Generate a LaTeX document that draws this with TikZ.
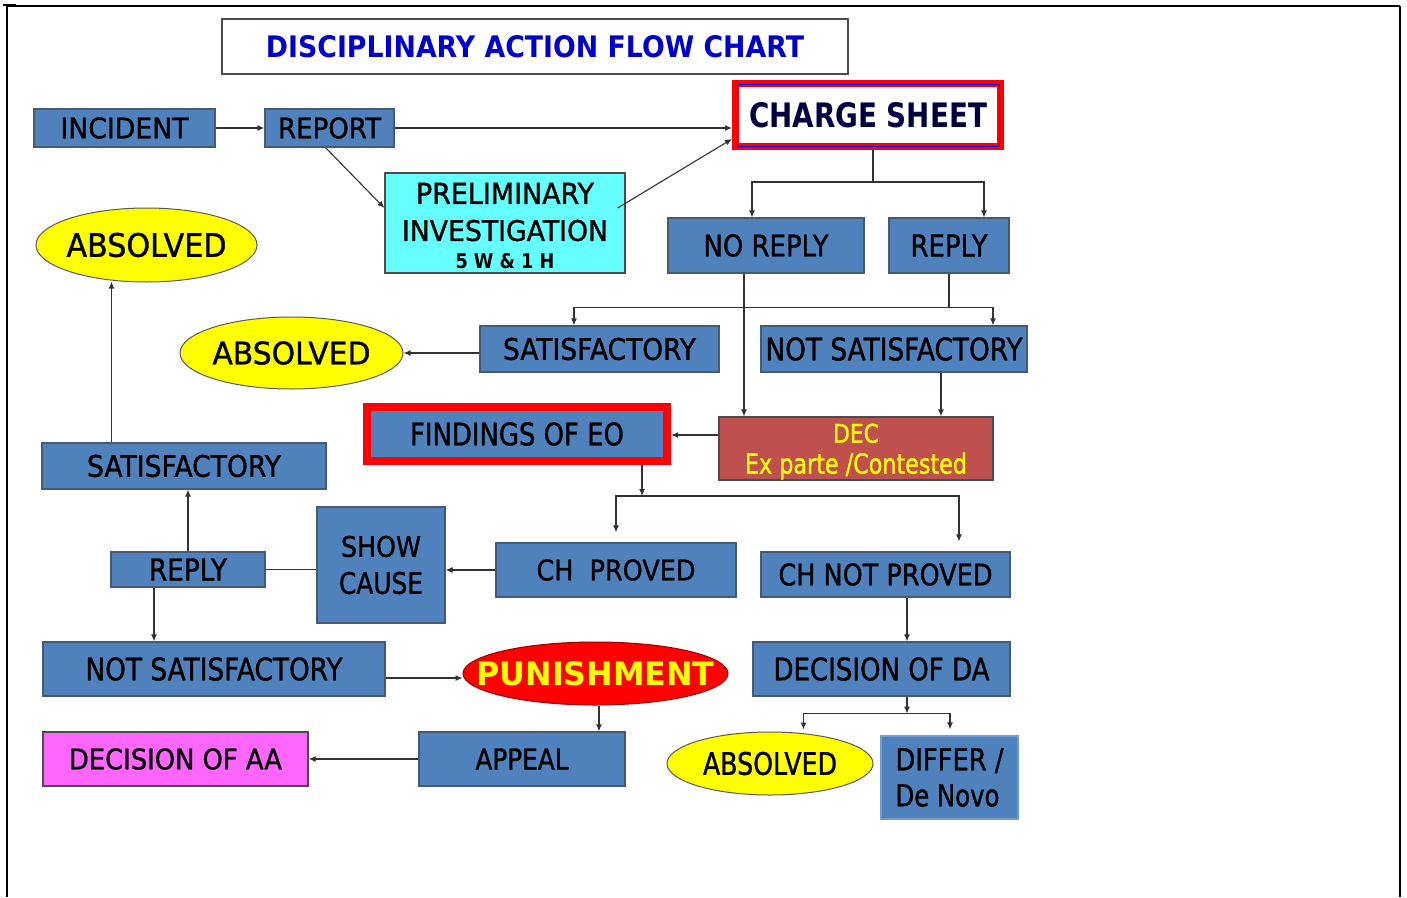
\documentclass[tikz,border=0pt]{standalone}
\usepackage{fontspec}
\setmainfont{DejaVu Sans}[FakeBold=1.2]
\newfontfamily\heavyfont{DejaVu Sans Bold}
\usepackage{graphicx}
\usetikzlibrary{arrows.meta,shapes.geometric,calc}
\definecolor{boxblue}{RGB}{79,129,189}
\definecolor{edgec}{RGB}{50,50,50}
\definecolor{bord}{RGB}{70,90,115}
\definecolor{cyanbox}{RGB}{102,255,255}
\definecolor{decred}{RGB}{192,80,77}
\definecolor{magbox}{RGB}{255,102,255}
\definecolor{ylw}{RGB}{255,255,0}
\definecolor{titleblue}{RGB}{0,0,204}
\definecolor{navy}{RGB}{0,0,64}
\newcommand{\fit}[3]{\resizebox{#1pt}{#2pt}{#3}}
\begin{document}
\begin{tikzpicture}[x=1pt,y=-1pt,
  bx/.style={draw=bord, fill=boxblue, line width=1.2pt, inner sep=0pt},
  ell/.style={ellipse, draw=gray!70!black, fill=ylw, line width=1pt, inner sep=0pt},
  arr/.style={draw=edgec, line width=1.1pt, -{Latex[length=7pt,width=6pt]}},
  ln/.style={draw=edgec, line width=1.1pt},
  ml/.style={align=center, font=\fontsize{20pt}{#1}\selectfont},
]
\useasboundingbox (0,0) rectangle (1407,897);
% frame
\draw[line width=1.2pt] (7,6) -- (1040,6);
\draw[line width=2.4pt] (1040,6) -- (1400,6);
\draw[line width=2pt] (3,5) -- (16,5);
\draw[line width=1.5pt] (7,6) -- (7,897);
\draw[line width=1.5pt] (1400,6) -- (1400,897);

% title
\node[draw=gray!60!black, fill=white, line width=1.2pt, minimum width=626pt, minimum height=55pt, inner sep=0pt,
  text=titleblue] (title) at (535,46.5) {\fit{538}{22}{\heavyfont DISCIPLINARY ACTION FLOW CHART}};

% nodes
\node[bx, minimum width=181pt, minimum height=38pt] (incident) at (124.5,128) {\fit{128}{21}{INCIDENT}};
\node[bx, minimum width=129pt, minimum height=38pt] (report) at (329.5,128) {\fit{103}{21}{REPORT}};
\node[draw=red, line width=7pt, fill=white, minimum width=265pt, minimum height=63pt, inner sep=0pt, text=navy]
  (charge) at (868,115) {\fit{238}{25}{\heavyfont CHARGE SHEET}};
\draw[blue, line width=0.6pt] ([xshift=5pt,yshift=-4pt]charge.north west) rectangle ([xshift=-5pt,yshift=4pt]charge.south east);
\node[draw=gray!60!black, fill=cyanbox, line width=1.2pt, minimum width=240pt, minimum height=100pt, inner sep=0pt, ml=37pt]
  (prelim) at (505,223) {\rule{0pt}{27pt}\fit{178}{21}{PRELIMINARY}\\ \fit{206}{21}{INVESTIGATION}\\[-9pt] \fit{99}{15}{\heavyfont 5 W \& 1 H}};
\node[bx, minimum width=196pt, minimum height=55pt] (noreply) at (766,245.5) {\fit{125}{22}{NO REPLY}};
\node[bx, minimum width=120pt, minimum height=55pt] (reply) at (949,245.5) {\fit{77}{22}{REPLY}};
\node[ell, minimum width=221pt, minimum height=74pt] (abs1) at (146.5,245) {\makebox[0pt]{\fit{160}{24}{ABSOLVED}}};
\node[bx, minimum width=239pt, minimum height=46pt] (sat1) at (599.5,349) {\fit{193}{22}{SATISFACTORY}};
\node[bx, minimum width=266pt, minimum height=46pt] (notsat1) at (894,349) {\fit{257}{23}{NOT SATISFACTORY}};
\node[ell, minimum width=223pt, minimum height=72pt] (abs2) at (291.5,353) {\makebox[0pt]{\fit{158}{23}{ABSOLVED}}};
\node[draw=red, fill=boxblue, line width=8pt, minimum width=300pt, minimum height=54pt, inner sep=0pt]
  (findings) at (517,434) {\fit{214}{23}{FINDINGS OF EO}};
\draw[bord, line width=0.8pt] ([xshift=4pt,yshift=-4pt]findings.north west) rectangle ([xshift=-4pt,yshift=4pt]findings.south east);
\node[draw=gray!60!black, fill=decred, line width=1.2pt, minimum width=274pt, minimum height=63pt, inner sep=0pt,
  text=ylw, ml=31pt] (dec) at (856,448.5) {\rule{0pt}{25pt}\fit{46}{19}{DEC}\\ \fit{222}{21}{Ex parte /Contested}};
\node[bx, minimum width=284pt, minimum height=46pt] (sat2) at (184,466) {\fit{194}{22}{SATISFACTORY}};
\node[bx, minimum width=128pt, minimum height=116pt, ml=37pt] (show) at (381,565) {\fit{80}{21}{SHOW}\\ \fit{84}{22}{CAUSE}};
\node[bx, minimum width=240pt, minimum height=54pt] (chp) at (616,570) {\fit{159}{21}{CH~~PROVED}};
\node[bx, minimum width=249pt, minimum height=45pt] (chnp) at (885.5,574.5) {\fit{214}{22}{CH NOT PROVED}};
\node[bx, minimum width=154pt, minimum height=35pt] (reply2) at (188,569.5) {\fit{78}{22}{REPLY}};
\node[bx, minimum width=342pt, minimum height=54pt] (notsat2) at (214,669) {\fit{257}{23}{NOT SATISFACTORY}};
\node[ellipse, draw=red!60!black, fill=red, line width=1pt, inner sep=0pt, minimum width=265pt, minimum height=63pt, text=ylw]
  (pun) at (595.5,673.5) {\makebox[0pt]{\fit{238}{24}{\heavyfont PUNISHMENT}}};
\node[bx, minimum width=257pt, minimum height=54pt] (da) at (881.5,669) {\fit{216}{23}{DECISION OF DA}};
\node[bx, minimum width=206pt, minimum height=54pt] (appeal) at (522,759) {\fit{93}{21}{APPEAL}};
\node[draw=gray!60!black, fill=magbox, line width=1.2pt, minimum width=265pt, minimum height=54pt, inner sep=0pt]
  (aa) at (175.5,759) {\fit{213}{21}{DECISION OF AA}};
\node[ell, minimum width=206pt, minimum height=63pt] (abs3) at (770,763.5) {\makebox[0pt]{\fit{134}{23}{ABSOLVED}}};
\node[bx, draw=boxblue!80!white, minimum width=137pt, minimum height=83pt, align=left, font=\fontsize{20pt}{36pt}\selectfont]
  (differ) at (949.5,777.5) {\fit{108}{22}{DIFFER /}\\ \fit{104}{22}{De Novo}};

% connectors
\draw[arr] (incident) -- (report);
\draw[arr] (report) -- (report -| charge.west);
\draw[arr] ([xshift=-4pt]report.south) -- ([yshift=15pt]prelim.west);
\draw[arr] ([xshift=-8pt,yshift=15pt]prelim.east) -- ([yshift=11pt]charge.south west);
\draw[ln] ([xshift=5pt]charge.south) -- ++(0,32) coordinate (j1);
\draw[arr] (j1) -| ([xshift=-14pt]noreply.north);
\draw[arr] (j1) -| ([xshift=35pt]reply.north);
\draw[arr] ([xshift=-22pt]noreply.south) -- ([xshift=-22pt]noreply.south |- dec.north);
\draw[ln] (reply.south) -- ++(0,34) coordinate (j2);
\draw[arr] (j2) -| ([xshift=-25.5pt]sat1.north);
\draw[arr] (j2) -| ([xshift=99pt]notsat1.north);
\draw[arr] (sat1.west |- abs2.east) -- (abs2.east);
\draw[arr] ([xshift=47pt]notsat1.south) -- ([xshift=47pt]notsat1.south |- dec.north);
\draw[arr] ([yshift=13.5pt]dec.west) -- ([yshift=13.5pt]dec.west -| findings.east);
\draw[arr] ([xshift=125pt]findings.south) -- ++(0,31) coordinate (j3);
\draw[arr] (j3) -| ([yshift=10pt]chp.north);
\draw[arr] (j3) -| ([xshift=73.5pt,yshift=10pt]chnp.north);
\draw[arr] (chp.west) -- (chp.west -| show.east);
\draw[ln] (reply2.east -| show.west) -- (reply2.east);
\draw[arr] (reply2.north) -- (reply2.north |- sat2.south);
\draw[arr] ([xshift=-72.5pt]sat2.north) -- ([xshift=-72.5pt,yshift=1pt]sat2.north |- abs1.south);
\draw[arr] ([xshift=-34pt]reply2.south) -- ([xshift=-34pt]reply2.south |- notsat2.north);
\draw[arr] ([yshift=-9pt]notsat2.east) -- ([yshift=-9pt]notsat2.east -| pun.west);
\draw[arr] ([xshift=3.5pt]pun.south) -- ([xshift=3.5pt]pun.south |- appeal.north);
\draw[arr] (appeal) -- (aa);
\draw[arr] ([xshift=21.5pt]chnp.south) -- ([xshift=21.5pt]chnp.south |- da.north);
\draw[arr] ([xshift=25.5pt]da.south) -- ++(0,17) coordinate (j4);
\draw[arr] (j4) -| ([xshift=33.5pt,yshift=2pt]abs3.north);
\draw[arr] (j4) -| ([xshift=0.5pt,yshift=6pt]differ.north);
\end{tikzpicture}
\end{document}
